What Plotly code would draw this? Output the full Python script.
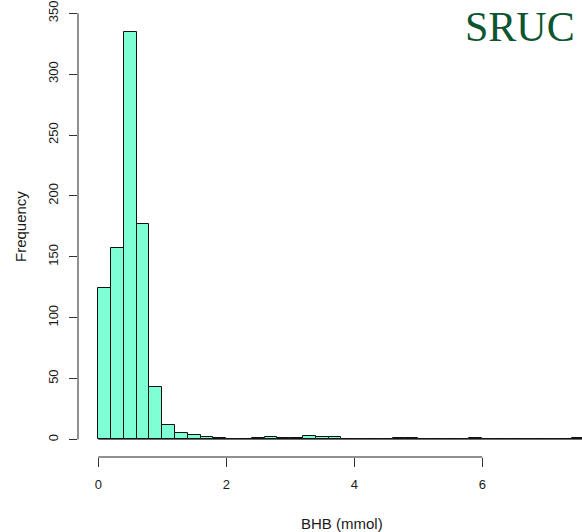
import plotly.graph_objects as go

# Histogram of BHB (mmol), bins of width 0.2 starting at 0
bin_width = 0.2
bin_starts = [round(i * 0.2, 1) for i in range(38)]
counts = [124, 157, 335, 177, 43, 12, 5, 4, 2, 1,
          0, 0, 1, 2, 1, 1, 3, 2, 2, 0,
          0, 0, 0, 1, 1, 0, 0, 0, 0, 1,
          0, 0, 0, 0, 0, 0, 0, 1]
x_ticks = [0, 2, 4, 6]
y_ticks = [0, 50, 100, 150, 200, 250, 300, 350]

centers = [s + bin_width / 2 for s in bin_starts]

fig = go.Figure()
fig.add_trace(go.Bar(
    x=centers, y=counts, width=bin_width,
    marker=dict(color="#7FFFD4", line=dict(color="#111111", width=1)),
    hoverinfo="x+y",
))

tick_font = dict(family="Liberation Sans, Arial, sans-serif", size=13, color="#1a1a1a")
title_font = dict(family="Liberation Sans, Arial, sans-serif", size=15, color="#1a1a1a")

fig.update_layout(
    width=582, height=532,
    margin=dict(l=78, r=0, t=0, b=75),
    paper_bgcolor="white", plot_bgcolor="white",
    showlegend=False,
    bargap=0,
    xaxis=dict(range=[-0.317, 7.558], tickvals=x_ticks, ticktext=[str(v) for v in x_ticks],
               showgrid=False, zeroline=False, showline=False,
               ticks="outside", ticklen=9, tickcolor="#333333", tickwidth=1,
               tickfont=tick_font, ticklabelstandoff=6, ticklabeloverflow="allow"),
    yaxis=dict(range=[-14.4, 358.4], tickvals=y_ticks, ticktext=[str(v) for v in y_ticks],
               showgrid=False, zeroline=False, showline=False,
               ticks="outside", ticklen=8, tickcolor="#333333", tickwidth=1,
               tickfont=tick_font, tickangle=-90, ticklabelstandoff=6,
               ticklabeloverflow="allow"),
    shapes=[
        # y axis line (R style: spans first to last tick)
        dict(type="line", xref="paper", yref="y", x0=0, x1=0,
             y0=y_ticks[0], y1=y_ticks[-1], line=dict(color="#222222", width=1)),
        # x axis line
        dict(type="line", xref="x", yref="paper", x0=x_ticks[0], x1=x_ticks[-1],
             y0=0, y1=0, line=dict(color="#222222", width=1)),
        # baseline of zero-height bins
        dict(type="line", xref="x", yref="y", x0=bin_starts[0],
             x1=bin_starts[-1] + bin_width, y0=0, y1=0,
             line=dict(color="#666666", width=1)),
    ],
    annotations=[
        dict(text="Frequency", xref="paper", yref="paper", x=-78/504, y=1-225/457,
             xanchor="left", yanchor="middle", xshift=10, textangle=-90,
             showarrow=False, font=title_font),
        dict(text="BHB (mmol)", xref="paper", yref="paper", x=(342-78)/504, y=0,
             xanchor="center", yanchor="middle", yshift=-66,
             showarrow=False, font=title_font),
        dict(text="SRUC", xref="paper", yref="paper", x=1, y=1,
             xanchor="right", yanchor="top", xshift=-5, yshift=1,
             showarrow=False,
             font=dict(family="Liberation Serif, DejaVu Serif, serif", size=42,
                       color="#0D5530", weight=500)),
    ],
)

fig.write_html("out.html")
